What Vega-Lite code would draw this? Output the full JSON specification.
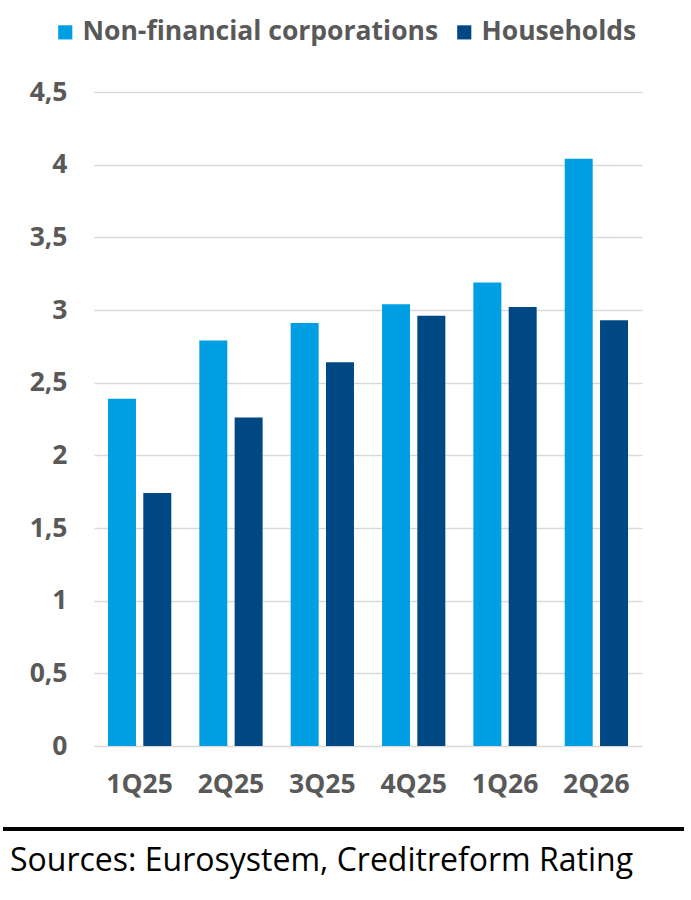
{
  "$schema": "https://vega.github.io/schema/vega-lite/v6.json",
  "width": 548,
  "height": 654,
  "autosize": "none",
  "padding": {"left": 94, "top": 92, "right": 49, "bottom": 154},
  "background": "white",
  "datasets": {
    "bars": [
      {"quarter": "1Q25", "sector": "Non-financial corporations", "value": 2.39},
      {"quarter": "1Q25", "sector": "Households", "value": 1.74},
      {"quarter": "2Q25", "sector": "Non-financial corporations", "value": 2.79},
      {"quarter": "2Q25", "sector": "Households", "value": 2.26},
      {"quarter": "3Q25", "sector": "Non-financial corporations", "value": 2.91},
      {"quarter": "3Q25", "sector": "Households", "value": 2.64},
      {"quarter": "4Q25", "sector": "Non-financial corporations", "value": 3.04},
      {"quarter": "4Q25", "sector": "Households", "value": 2.96},
      {"quarter": "1Q26", "sector": "Non-financial corporations", "value": 3.19},
      {"quarter": "1Q26", "sector": "Households", "value": 3.02},
      {"quarter": "2Q26", "sector": "Non-financial corporations", "value": 4.04},
      {"quarter": "2Q26", "sector": "Households", "value": 2.93}
    ],
    "footer": [
      {"start": 0, "end": 1, "level": -0.571, "textpos": 0.0103, "textlevel": -0.79, "note": "Sources: Eurosystem, Creditreform Rating"}
    ]
  },
  "layer": [
    {
      "data": {"name": "bars"},
      "mark": {"type": "bar"},
      "encoding": {
        "x": {
          "field": "quarter",
          "type": "nominal",
          "sort": ["1Q25", "2Q25", "3Q25", "4Q25", "1Q26", "2Q26"],
          "scale": {"paddingInner": 0.307, "paddingOuter": 0.153},
          "axis": {
            "title": null,
            "labelAngle": 0,
            "domain": false,
            "ticks": false,
            "labelFont": "Open Sans",
            "labelFontWeight": "bold",
            "labelFontSize": 26.5,
            "labelColor": "#595959",
            "labelPadding": 25
          }
        },
        "xOffset": {
          "field": "sector",
          "type": "nominal",
          "sort": ["Non-financial corporations", "Households"],
          "scale": {"paddingInner": 0.207}
        },
        "y": {
          "field": "value",
          "type": "quantitative",
          "scale": {"domain": [0, 4.5]},
          "axis": {
            "title": null,
            "values": [0, 0.5, 1, 1.5, 2, 2.5, 3, 3.5, 4, 4.5],
            "format": ".1~f",
            "labelExpr": "replace(datum.label, '.', ',')",
            "domain": false,
            "ticks": false,
            "gridColor": "#D9D9D9",
            "gridWidth": 1.5,
            "labelFont": "Open Sans",
            "labelFontWeight": "bold",
            "labelFontSize": 26.5,
            "labelColor": "#595959",
            "labelPadding": 27
          }
        },
        "color": {
          "field": "sector",
          "type": "nominal",
          "sort": ["Non-financial corporations", "Households"],
          "scale": {"range": ["#009FE3", "#004884"]},
          "legend": {
            "title": null,
            "orient": "none",
            "direction": "horizontal",
            "legendX": -42,
            "legendY": -73,
            "symbolType": "square",
            "symbolSize": 200,
            "symbolStrokeWidth": 0,
            "labelFont": "Open Sans",
            "labelFontWeight": "bold",
            "labelFontSize": 26.5,
            "labelColor": "#595959",
            "labelOffset": 4,
            "columnPadding": 12,
            "labelLimit": 500
          }
        }
      }
    },
    {
      "data": {"name": "footer"},
      "mark": {"type": "rule", "color": "black", "strokeWidth": 4},
      "encoding": {
        "x": {"field": "start", "type": "quantitative", "scale": {"domain": [0.1336, 0.9383], "zero": false, "nice": false}, "axis": null},
        "x2": {"field": "end"},
        "y": {"field": "level", "type": "quantitative", "scale": {"domain": [0, 4.5]}}
      }
    },
    {
      "data": {"name": "footer"},
      "mark": {"type": "text", "align": "left", "baseline": "middle", "font": "Open Sans", "fontSize": 32, "color": "black"},
      "encoding": {
        "x": {"field": "textpos", "type": "quantitative", "scale": {"domain": [0.1336, 0.9383], "zero": false, "nice": false}, "axis": null},
        "y": {"field": "textlevel", "type": "quantitative", "scale": {"domain": [0, 4.5]}},
        "text": {"field": "note"}
      }
    }
  ],
  "resolve": {"scale": {"x": "independent"}},
  "config": {"view": {"stroke": null}}
}
